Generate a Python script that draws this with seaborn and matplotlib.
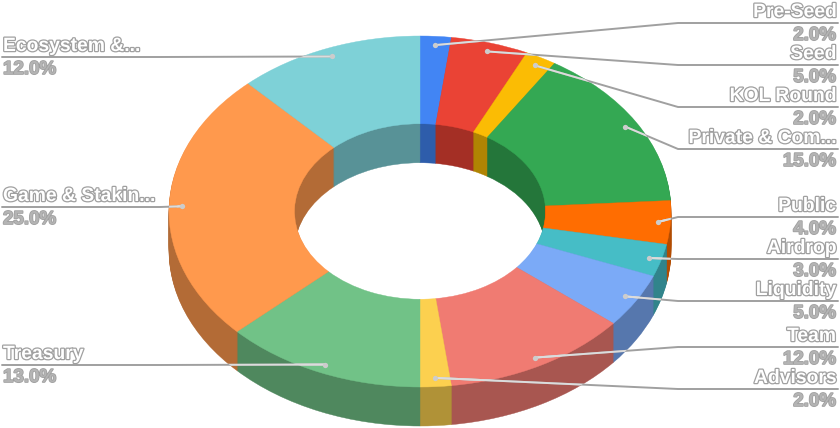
import numpy as np
import matplotlib
matplotlib.use("Agg")
import matplotlib.pyplot as plt
import matplotlib.patheffects as pe
from matplotlib.patches import Ellipse
import seaborn as sns

names = ["Pre-Seed", "Seed", "KOL Round", "Private & Com...", "Public", "Airdrop",
         "Liquidity", "Team", "Advisors", "Treasury", "Game & Stakin...", "Ecosystem &..."]
shares = [2, 5, 2, 15, 4, 3, 5, 12, 2, 13, 25, 12]
colors = ["#4285F4", "#EA4335", "#FBBC04", "#34A853", "#FF6D01", "#46BDC6",
          "#7BAAF7", "#F07B72", "#FCD04F", "#71C287", "#FF994D", "#7ED1D7"]
# y of the horizontal part of each leader line, pixels from the top
leader_y = [23, 65, 107, 149, 217, 259, 301, 347, 389, 365, 207, 57]

# Geometry of the tilted donut, in pixels
W, H = 840, 428
CX, CY = 420, 211.5
RX, RY = 251, 175.5
DEPTH = 39
GREY = "#a0a0a0"
LIGHT = "#dcdcdc"

sns.set_theme(style="white")
plt.rcParams['font.family'] = ['Liberation Sans', 'DejaVu Sans']

palette = sns.color_palette(colors)
walls = [tuple(c * 0.7 for c in col) for col in palette]

fig = plt.figure(figsize=(W / 100, H / 100), dpi=100)
ax = fig.add_axes([0, 0, 1, 1])


def draw_ring(drop, ring_colors):
    wedges, _ = ax.pie(shares, colors=ring_colors, startangle=90, counterclock=False,
                       radius=1, center=(0, -drop / RY), wedgeprops=dict(width=0.5))
    for w, col in zip(wedges, ring_colors):
        w.set_edgecolor(col)
        w.set_linewidth(0.3)


# Depth is a stack of rings, deepest first, so walls get vertical joins
for drop in range(DEPTH, 0, -1):
    draw_ring(drop, walls)
draw_ring(0, palette)

ax.set_aspect('auto')
ax.set_xlim(-CX / RX, (W - CX) / RX)
ax.set_ylim((CY - H) / RY, CY / RY)
ax.set_axis_off()

# Overlay in pixel coordinates for leaders and labels
over = fig.add_axes([0, 0, 1, 1])
over.set_xlim(0, W)
over.set_ylim(H, 0)
over.set_axis_off()
over.patch.set_alpha(0)

name_fx = [pe.withStroke(linewidth=1.8, foreground="#a0a0a0")]
pct_fx = [pe.withStroke(linewidth=1.2, foreground="#a0a0a0")]

cum = np.cumsum([0] + shares[:-1])
for name, share, start, ly in zip(names, shares, cum, leader_y):
    angle = np.deg2rad((start + share / 2) * 3.6)
    dot_x = CX + 0.95 * RX * np.sin(angle)
    dot_y = CY - 0.95 * RY * np.cos(angle)
    right = dot_x > CX
    elbow = 678 if right else 160
    end = 838 if right else 2
    xs = [dot_x, elbow, end]
    ys = [dot_y, ly, ly]

    over.plot(xs, ys, color=GREY, lw=1.4, solid_joinstyle='round')
    # Leader turns pale where it runs over the donut
    for shift in (0, DEPTH):
        clip = Ellipse((CX, CY + shift), 2 * RX, 2 * RY, transform=over.transData)
        pale, = over.plot(xs, ys, color=LIGHT, lw=1.4)
        pale.set_clip_path(clip)
    over.plot([dot_x], [dot_y], 'o', color="#cccccc", ms=3.8, mec='none')

    tx = 836 if right else 3
    ha = 'right' if right else 'left'
    over.text(tx, ly - 6, name, ha=ha, va='baseline', fontsize=13.9, fontweight='bold',
              color='white', path_effects=name_fx)
    over.text(tx, ly + 17, f"{share:.1f}%", ha=ha, va='baseline', fontsize=13.5,
              fontweight='bold', color="#b4b4b4", path_effects=pct_fx)

fig.savefig("out.png", dpi=100, facecolor='white')
